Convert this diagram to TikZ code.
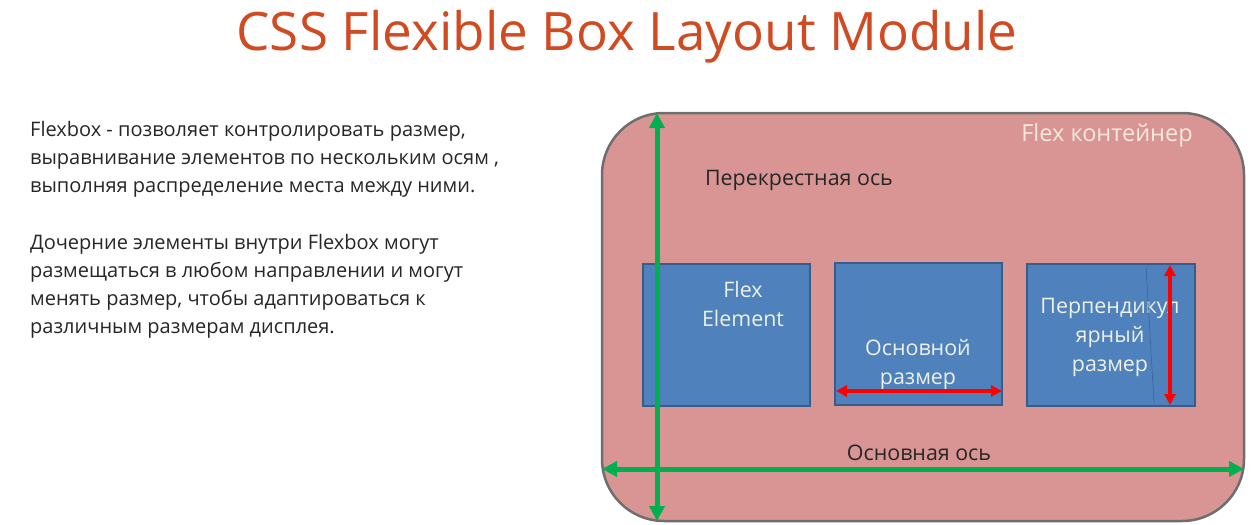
\documentclass[tikz,border=0pt]{standalone}
\usepackage{fontspec}
\setmainfont{Open Sans}
\usetikzlibrary{arrows.meta}
\definecolor{titlecol}{HTML}{D04A22}
\definecolor{boxfill}{HTML}{D99594}
\definecolor{boxedge}{HTML}{6E6E6E}
\definecolor{elfill}{HTML}{4F81BD}
\definecolor{eledge}{HTML}{385D8A}
\definecolor{axisgreen}{HTML}{00B050}
\definecolor{lighttext}{HTML}{EEF0E0}
\definecolor{beige}{HTML}{F4E9DA}
\tikzset{
  x=1pt, y=-1pt,
  element/.style={draw=eledge, line width=2pt, fill=elfill},
  axis/.style={draw=axisgreen, line width=5pt, {Triangle[length=15pt,width=15pt]}-{Triangle[length=15pt,width=15pt]}},
  sizearrow/.style={draw=red, line width=3.2pt, {Triangle[length=11pt,width=11pt]}-{Triangle[length=11pt,width=11pt]}},
  eltext/.style={text=lighttext, font=\fontsize{21.4}{29}\selectfont, align=center},
  plain/.style={font=\fontsize{20}{28}\selectfont, text=black!85, inner sep=0pt},
  label/.style={font=\fontsize{21.4}{28}\selectfont, text=black!85, inner sep=0pt}
}
\begin{document}
\begin{tikzpicture}
\useasboundingbox (0,0) rectangle (1254,525);
% title
\node[text=titlecol, font=\fontsize{53}{60}\selectfont, inner sep=0pt] (title) at (627,37) {CSS Flexible Box Layout Module};
% description
\node[plain, anchor=north west, align=left] (desc) at (30,121)
 {Flexbox - позволяет контролировать размер,\\
  выравнивание элементов по нескольким осям ,\\
  выполняя распределение места между ними.\\[29pt]
  Дочерние элементы внутри Flexbox могут\\
  размещаться в любом направлении и могут\\
  менять размер, чтобы адаптироваться к\\
  различным размерам дисплея.};
% flex container
\node[draw=boxedge, line width=2.5pt, fill=boxfill, rounded corners=62pt,
      minimum width=642pt, minimum height=408pt, inner sep=0pt] (cont) at (923,317) {};
\node[text=beige, font=\fontsize{23.5}{24}\selectfont, inner sep=0pt] (contlbl) at (1107,135) {Flex контейнер};
\node[label] (crosslbl) at (799,180) {Перекрестная ось};
\node[label] (mainlbl) at (919,453) {Основная ось};
% flex elements
\node[element, minimum width=167pt, minimum height=142pt, inner sep=0pt] (e1) at (726.5,335) {};
\node[element, minimum width=167pt, minimum height=142pt, inner sep=0pt] (e2) at (918.5,334) {};
\node[element, minimum width=168pt, minimum height=142pt, inner sep=0pt] (e3) at (1111,335) {};
\node[eltext] (t1) at (743,304) {Flex\\Element};
\node[eltext] (t2) at (918,364) {Основной\\размер};
\node[eltext] (t3) at (1110,337) {Перпендикул\\ярный\\размер};
% faint guide inside the third element
\coordinate (g1) at (1146,266);
\coordinate (g2) at (1154,403);
\draw[eledge!80!elfill, line width=0.6pt] (g1) -- (g2);
% size arrows
\coordinate (ms1) at (836,391);
\coordinate (ms2) at (1002,391);
\coordinate (cs1) at (1170,265);
\coordinate (cs2) at (1170,405);
\draw[sizearrow] (ms1) -- (ms2);
\draw[sizearrow] (cs1) -- (cs2);
% axes
\coordinate (ca1) at (657,113);
\coordinate (ca2) at (657,521);
\coordinate (ma1) at (602,469);
\coordinate (ma2) at (1244,469);
\draw[axis] (ca1) -- (ca2);
\draw[axis] (ma1) -- (ma2);
\end{tikzpicture}
\end{document}
